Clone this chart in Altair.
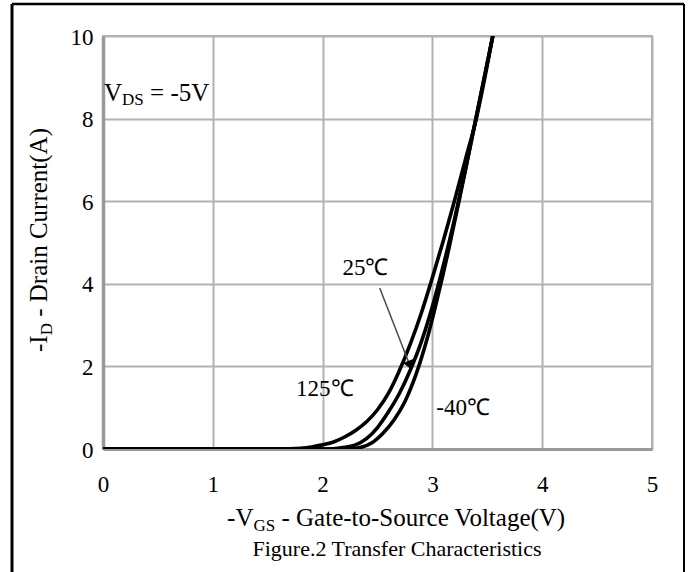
import altair as alt
import pandas as pd

# ---------------- data ----------------
temps = ["125℃", "25℃", "-40℃"]
vgs_125 = [0, 1.6, 1.8, 1.9, 2.0, 2.1, 2.2, 2.3, 2.4, 2.5, 2.6, 2.7, 2.8, 2.9, 3.0, 3.1, 3.2, 3.3, 3.4, 3.5, 3.55]
id_125 = [0, 0, 0.02, 0.05, 0.1, 0.17, 0.29, 0.45, 0.66, 0.95, 1.35, 1.9, 2.55, 3.3, 4.15, 5.05, 6.0, 7.0, 8.0, 9.3, 10.0]
vgs_25 = [0, 2.05, 2.2, 2.3, 2.4, 2.5, 2.6, 2.7, 2.8, 2.9, 3.0, 3.1, 3.2, 3.3, 3.4, 3.5, 3.55]
id_25 = [0, 0, 0.04, 0.1, 0.25, 0.52, 0.9, 1.35, 1.92, 2.6, 3.45, 4.45, 5.55, 6.75, 8.05, 9.35, 10.0]
vgs_m40 = [0, 2.25, 2.35, 2.45, 2.55, 2.65, 2.75, 2.85, 2.95, 3.05, 3.15, 3.25, 3.35, 3.45, 3.55]
id_m40 = [0, 0, 0.04, 0.15, 0.38, 0.7, 1.15, 1.8, 2.65, 3.7, 4.85, 6.1, 7.4, 8.7, 10.0]

label_text = ["25℃", "125℃", "-40℃"]
label_vgs = [2.39, 2.02, 3.28]
label_id = [4.38, 1.45, 0.99]

arrow_vgs = [2.52, 2.79]
arrow_id = [3.90, 2.06]

x_ticks = [0, 1, 2, 3, 4, 5]
y_ticks = [0, 2, 4, 6, 8, 10]

# ---------------- layout ----------------
W, H = 549, 413
PL, PT = 103, 36
FONT = "Liberation Serif"
FS = 23          # tick labels / curve labels
TFS, TSUB = 25, 17  # axis titles
GRID = "#b2b2b2"

# Times / Liberation Serif advance widths (per 1000 em)
AW = {" ": 250, "-": 333, "V": 722, "G": 722, "S": 556, "D": 722, "I": 333, "a": 444, "t": 278,
      "e": 444, "o": 500, "u": 500, "r": 333, "c": 444, "l": 278, "g": 500, "(": 333, ")": 333,
      "A": 722, "C": 667, "n": 500, "i": 278, "=": 564, "5": 500}


def tw(s, size):
    return sum(AW.get(ch, 500) for ch in s) / 1000.0 * size


rows = []
for name, xs, ys in [(temps[0], vgs_125, id_125), (temps[1], vgs_25, id_25), (temps[2], vgs_m40, id_m40)]:
    for k, (a, b) in enumerate(zip(xs, ys)):
        rows.append({"temp": name, "vgs": a, "id": b, "k": k})
df = pd.DataFrame(rows)

xscale = alt.Scale(domain=[0, 5], nice=False, zero=False)
yscale = alt.Scale(domain=[0, 10], nice=False, zero=False)
xaxis = alt.Axis(values=x_ticks, title=None, grid=True, gridColor=GRID, gridWidth=2,
                 domainColor="#999999", domainWidth=3, ticks=False, labelFont=FONT,
                 labelFontSize=FS, labelColor="black", labelPadding=24, labelFlush=False, format="d")
yaxis = alt.Axis(values=y_ticks, title=None, grid=True, gridColor=GRID, gridWidth=2,
                 domainColor="#999999", domainWidth=3.5, ticks=False, labelFont=FONT,
                 labelFontSize=FS, labelColor="black", labelPadding=10, labelFlush=False,
                 labelOffset=1, format="d")


def X(f):
    return alt.X(f, type="quantitative", scale=xscale, axis=xaxis)


def Y(f):
    return alt.Y(f, type="quantitative", scale=yscale, axis=yaxis)


lines = alt.Chart(df).mark_line(color="black", strokeWidth=3.6, interpolate="monotone", clip=True).encode(
    x=X("vgs"), y=Y("id"), detail="temp:N", order="k:Q")

labels = alt.Chart(pd.DataFrame({"t": label_text, "x": label_vgs, "y": label_id})).mark_text(
    font=FONT, fontSize=FS, color="black", align="center", baseline="middle").encode(
    x=X("x"), y=Y("y"), text="t:N")

arrow = alt.Chart(pd.DataFrame({"x": arrow_vgs, "y": arrow_id})).mark_line(
    color="#4a4a4a", strokeWidth=1.5).encode(x=X("x"), y=Y("y"))
head = alt.Chart(pd.DataFrame({"x": arrow_vgs[-1:], "y": arrow_id[-1:]})).mark_point(
    shape="triangle", filled=True, color="black", opacity=1, size=120, angle=158).encode(
    x=X("x"), y=Y("y"))

one = pd.DataFrame({"a": [0]})
frame_l = alt.Chart(one).mark_rule(color="black", strokeWidth=3).encode(
    x=alt.value(12 - PL), y=alt.value(4 - PT), y2=alt.value(600))
frame_t = alt.Chart(one).mark_rule(color="black", strokeWidth=2.5).encode(
    x=alt.value(12 - PL), x2=alt.value(684 - PL), y=alt.value(4 - PT))
frame_r = alt.Chart(one).mark_rule(color="black", strokeWidth=2).encode(
    x=alt.value(684 - PL), y=alt.value(4 - PT), y2=alt.value(600))


def txt(s, x, y, size=FS, angle=0, align="left", baseline="alphabetic"):
    kw = dict(text=s, font=FONT, fontSize=size, color="black", align=align, baseline=baseline)
    if angle:
        kw["angle"] = angle
    return alt.Chart(one).mark_text(**kw).encode(x=alt.value(x), y=alt.value(y))


def pieces(parts):
    """parts: list of (text, size, sub). Returns list of (stripped_text, size, sub, offset)."""
    out, off = [], 0.0
    for s, size, sub in parts:
        lead = len(s) - len(s.lstrip(" "))
        off += tw(" " * lead, size)
        out.append((s.strip(" "), size, sub, off))
        off += tw(s.strip(" "), size)
    return out, off


# x-axis title  -V_GS - Gate-to-Source Voltage(V)
xparts, xw = pieces([("-V", TFS, False), ("GS", TSUB, True), (" - Gate-to-Source Voltage(V)", TFS, False)])
x0 = 398 - PL - xw / 2
yb = 526 - PT
xt_layers = [txt(s, x0 + o, yb + (5 if sub else 0), size) for s, size, sub, o in xparts]

# y-axis title  -I_D - Drain Current(A)  (rotated)
yparts, yw = pieces([("-I", TFS, False), ("D", TSUB, True), (" - Drain Current(A)", TFS, False)])
ys0 = 240 - PT + yw / 2
xb = 47 - PL
yt_layers = [txt(s, xb + (5 if sub else 0), ys0 - o, size, angle=270) for s, size, sub, o in yparts]

# V_DS = -5V annotation
vparts, _ = pieces([("V", 25, False), ("DS", 17, True), (" = -5V", 25, False)])
vx = 104 - PL
vy = 101 - PT
vd_layers = [txt(s, vx + o, vy + (4 if sub else 0), size) for s, size, sub, o in vparts]

caption = txt("Figure.2 Transfer Characteristics", 397 - PL, 556 - PT, 22, align="center")

chart = alt.layer(
    lines, arrow, head, labels, frame_l, frame_t, frame_r, *xt_layers, *yt_layers, *vd_layers, caption
).properties(
    width=W, height=H,
    padding={"left": PL, "top": PT, "right": 691 - PL - W, "bottom": 572 - PT - H},
    autosize=alt.AutoSizeParams(type="none"),
).configure_view(stroke=GRID, strokeWidth=2)

chart.save("out.html", embed_options={"renderer": "svg", "actions": False})
